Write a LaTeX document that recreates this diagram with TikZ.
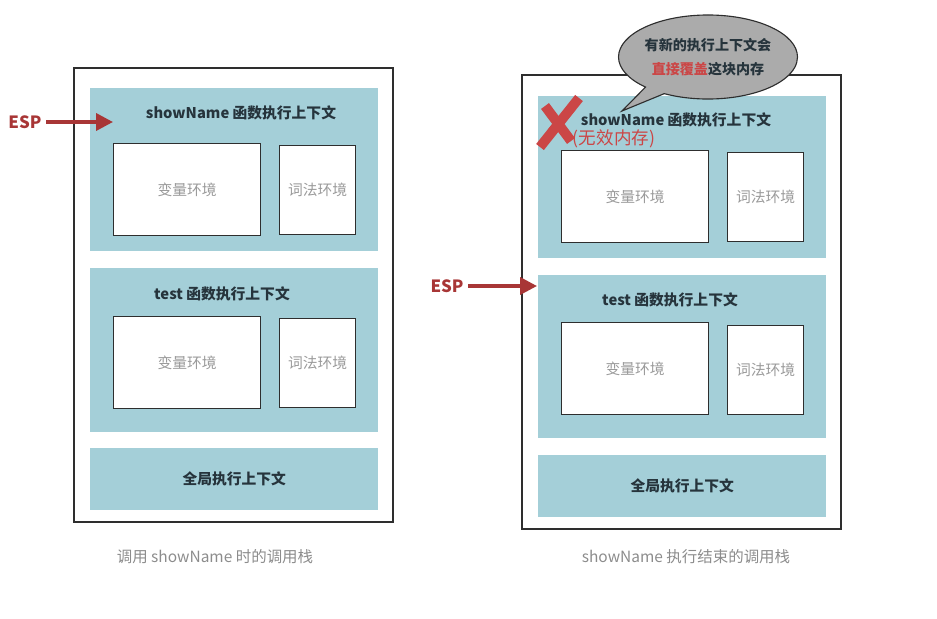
\documentclass[tikz,border=0pt]{standalone}
\usepackage{fontspec}
\setmainfont{Noto Sans CJK SC}
\usetikzlibrary{arrows.meta,positioning,shapes.callouts}
\definecolor{ctx}{HTML}{A4CFD8}
\definecolor{frame}{HTML}{2E2E2E}
\definecolor{espred}{HTML}{A83636}
\definecolor{xred}{HTML}{CB4646}
\definecolor{ink}{HTML}{26343C}
\definecolor{muted}{HTML}{9A9A9A}
\definecolor{capgray}{HTML}{8C8C8C}
\definecolor{bubble}{HTML}{ABABAB}

\begin{document}
\begin{tikzpicture}[
  x=0.025cm, y=-0.025cm,
  font=\fontsize{10}{12}\selectfont,
  stack/.style={draw=frame, line width=1.2pt, fill=white, anchor=north west, inner sep=0pt, minimum width=7.975cm, minimum height=11.35cm},
  ctxblock/.style={fill=ctx, anchor=north west, inner sep=0pt, minimum width=7.2cm},
  title/.style={text=ink, font=\fontsize{10.5}{12}\selectfont\bfseries},
  varenv/.style={draw=frame, line width=0.9pt, fill=white, text=muted, anchor=north west, minimum width=3.675cm, minimum height=2.3cm, font=\fontsize{10.5}{12}\selectfont},
  lexenv/.style={draw=frame, line width=0.9pt, fill=white, text=muted, anchor=north west, minimum width=1.9cm, minimum height=2.225cm, font=\fontsize{10.5}{12}\selectfont},
  esplabel/.style={text=espred, font=\fontsize{12}{14}\selectfont\bfseries},
  esparrow/.style={-{Triangle[length=12pt,width=12pt]}, espred, line width=2.6pt},
  stackcap/.style={text=capgray, font=\fontsize{11}{13}\selectfont}
]
\useasboundingbox (0,0) rectangle (937,618);

% left: while showName runs
\node[stack] (frameL) at (73,67) {};
\node[ctxblock, minimum height=4.075cm] (showL) at (90,88) {};
\node[title] (showLt) at (241,113) {showName 函数执行上下文};
\node[varenv] (varL1) at (113,143) {变量环境};
\node[lexenv] (lexL1) at (279,145) {词法环境};
\node[ctxblock, minimum height=4.1cm] (testL) at (90,268) {};
\node[title] (testLt) at (222,294) {test 函数执行上下文};
\node[varenv] (varL2) at (113,316) {变量环境};
\node[lexenv] (lexL2) at (279,318) {词法环境};
\node[ctxblock, minimum height=1.55cm] (globL) at (90,448) {};
\node[title] at (globL) {全局执行上下文};
\node[stackcap] (capL) at (215,557) {调用 showName 时的调用栈};

\node[esplabel] (espL) at (25,122) {ESP};
\coordinate (tipL) at (113,122);
\draw[esparrow] (espL) -- (tipL);

% right: after showName returns
\node[stack] (frameR) at (521,74) {};
\node[ctxblock, minimum height=4.05cm] (showR) at (538,96) {};
\node[title] (showRt) at (676,120) {showName 函数执行上下文};
\node[varenv] (varR1) at (561,150) {变量环境};
\node[lexenv] (lexR1) at (727,152) {词法环境};
\node[ctxblock, minimum height=4.075cm] (testR) at (538,275) {};
\node[title] (testRt) at (670,300) {test 函数执行上下文};
\node[varenv] (varR2) at (561,322) {变量环境};
\node[lexenv] (lexR2) at (727,325) {词法环境};
\node[ctxblock, minimum height=1.55cm] (globR) at (538,455) {};
\node[title] at (globR) {全局执行上下文};
\node[stackcap] (capR) at (686,557) {showName 执行结束的调用栈};

\node[esplabel] (espR) at (447,286) {ESP};
\coordinate (tipR) at (537,286);
\draw[esparrow] (espR) -- (tipR);

% stale frame
\draw[xred, line width=7pt] (579,98) -- (540,147);
\draw[xred, line width=7pt] (545,106) -- (571,141);
\node[text=xred, font=\fontsize{12.5}{14}\selectfont] (dead) at (614,139) {(无效内存)};

\node[ellipse callout, fill=bubble, draw=frame, line width=0.8pt, inner sep=0pt,
  minimum width=4.4cm, minimum height=2.1cm, align=center, text=ink,
  callout absolute pointer={(622,111)}, font=\fontsize{10}{17}\selectfont\bfseries]
  (note) at (708,57) {有新的执行上下文会\\\textcolor{xred}{直接覆盖}这块内存};
\end{tikzpicture}
\end{document}
